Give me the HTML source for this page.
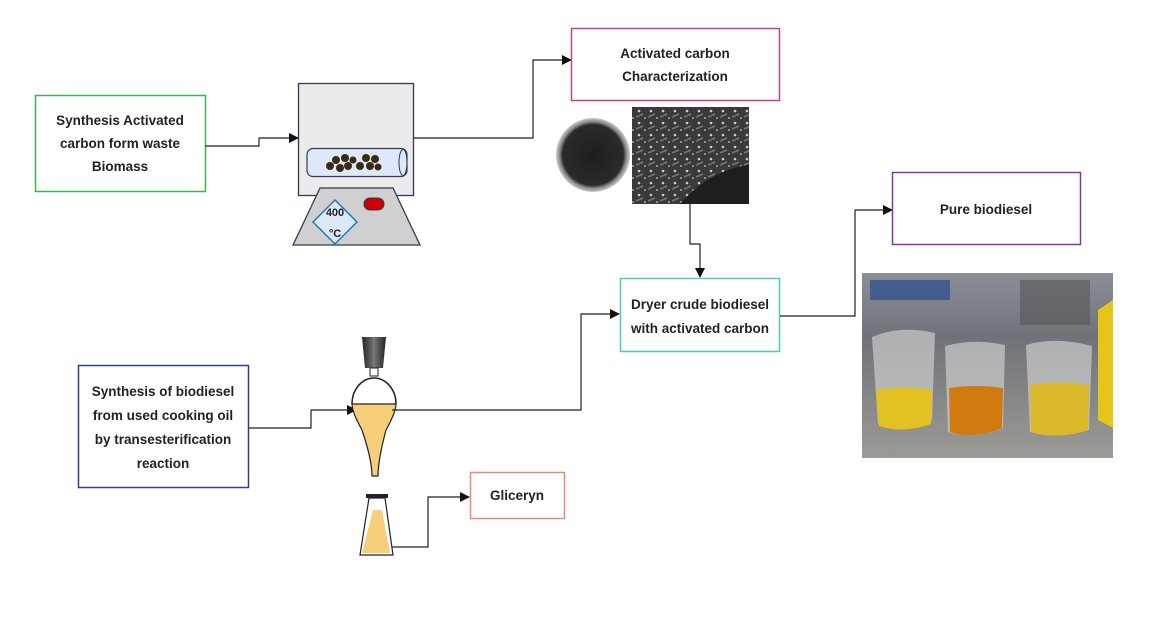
<!DOCTYPE html>
<html><head><meta charset="utf-8"><style>
html,body{margin:0;padding:0;background:#fff;}
svg{display:block;}
text{font-family:"Liberation Sans",sans-serif;font-weight:bold;font-size:13.5px;fill:#222;}
</style></head><body>
<svg width="1163" height="619" viewBox="0 0 1163 619" xmlns="http://www.w3.org/2000/svg">
<defs>
<marker id="a" markerWidth="10" markerHeight="10" refX="9" refY="5" orient="auto" markerUnits="userSpaceOnUse"><path d="M0,0 L10,5 L0,10 z" fill="#111"/></marker>
<radialGradient id="blob" cx="50%" cy="50%" r="50%"><stop offset="0" stop-color="#1e1e1e"/><stop offset="0.82" stop-color="#2a2a2a"/><stop offset="0.9" stop-color="#888"/><stop offset="1" stop-color="#ccc"/></radialGradient>
<linearGradient id="stop" x1="0" x2="1"><stop offset="0" stop-color="#222"/><stop offset="0.5" stop-color="#777"/><stop offset="1" stop-color="#222"/></linearGradient>
<linearGradient id="bg" x1="0" y1="0" x2="0" y2="1"><stop offset="0" stop-color="#8a8f98"/><stop offset="0.35" stop-color="#6f7278"/><stop offset="1" stop-color="#9b9a96"/></linearGradient>
<pattern id="sem" width="12" height="12" patternUnits="userSpaceOnUse"><rect width="12" height="12" fill="#3a3a3a"/><circle cx="3" cy="3" r="1.3" fill="#ccc"/><path d="M0,9 L7,6" stroke="#777" stroke-width="1.5"/><circle cx="9" cy="10" r="1" fill="#aaa"/></pattern>
</defs>
<rect x="35.5" y="95.5" width="170" height="96" fill="#fff" stroke="#3cb35a" stroke-width="1.5"/>
<text x="120" y="125" text-anchor="middle">Synthesis Activated</text>
<text x="120" y="148" text-anchor="middle">carbon form waste</text>
<text x="120" y="171" text-anchor="middle">Biomass</text>
<path d="M205,146 H259 V138 H298" fill="none" stroke="#222" stroke-width="1.2" marker-end="url(#a)"/>
<rect x="298.5" y="83.5" width="115" height="112" fill="#ebebeb" stroke="#333a55" stroke-width="1.3"/>
<path d="M320,188 H393 L420,245 H293 Z" fill="#d0d0d0" stroke="#333a55" stroke-width="1.3"/>
<rect x="307" y="148.5" width="100" height="28" rx="6" fill="#dde8fa" stroke="#333a55" stroke-width="1.2"/>
<ellipse cx="403" cy="162.5" rx="4" ry="13" fill="none" stroke="#333a55"/>
<g fill="#3a2a12">
<circle cx="330" cy="166" r="4"/><circle cx="336" cy="160" r="4"/><circle cx="340" cy="168" r="4"/><circle cx="345" cy="158" r="4"/><circle cx="348" cy="166" r="4"/><circle cx="353" cy="160" r="3.5"/>
<circle cx="360" cy="166" r="4"/><circle cx="366" cy="158" r="4"/><circle cx="370" cy="166" r="4"/><circle cx="375" cy="159" r="4"/><circle cx="378" cy="167" r="3.5"/>
</g>
<rect x="364" y="198" width="20" height="12" rx="6" fill="#c00" stroke="#333a55"/>
<path d="M335,200 L357,222 L335,244 L313,222 Z" fill="#dbe8f8" stroke="#2b74c0" stroke-width="1.5"/>
<text x="335" y="216" text-anchor="middle" style="font-size:11px">400</text>
<text x="335" y="237" text-anchor="middle" style="font-size:11px">°C</text>
<path d="M413,138 H533 V60 H571" fill="none" stroke="#222" stroke-width="1.2" marker-end="url(#a)"/>
<rect x="571.5" y="28.5" width="208" height="72" fill="#fff" stroke="#c2418a" stroke-width="1.5"/>
<text x="675" y="58" text-anchor="middle">Activated carbon</text>
<text x="675" y="81" text-anchor="middle">Characterization</text>
<circle cx="593" cy="155" r="37" fill="url(#blob)"/>
<rect x="632" y="107" width="117" height="97" fill="url(#sem)"/>
<path d="M680,204 Q710,170 749,165 L749,204 Z" fill="#1e1e1e"/>
<path d="M690,204 V244 H700 V277" fill="none" stroke="#222" stroke-width="1.2" marker-end="url(#a)"/>
<rect x="620.5" y="278.5" width="159" height="73" fill="#fff" stroke="#4cc8c0" stroke-width="1.5"/>
<text x="700" y="309" text-anchor="middle">Dryer crude biodiesel</text>
<text x="700" y="333" text-anchor="middle">with activated carbon</text>
<path d="M780,316 H855 V210 H892" fill="none" stroke="#222" stroke-width="1.2" marker-end="url(#a)"/>
<rect x="892.5" y="172.5" width="188" height="72" fill="#fff" stroke="#7b3aa8" stroke-width="1.5"/>
<text x="986" y="214" text-anchor="middle">Pure biodiesel</text>
<rect x="862" y="273" width="251" height="185" fill="url(#bg)"/>
<rect x="870" y="280" width="80" height="20" fill="#2a4a8a" opacity="0.7"/>
<rect x="1020" y="280" width="70" height="45" fill="#555" opacity="0.6"/>
<path d="M872,337 Q900,325 935,333 L932,420 Q904,434 878,424 Z" fill="#d8dbd8" opacity="0.6"/>
<path d="M876,390 Q905,385 932,390 L931,424 Q904,434 879,426 Z" fill="#e2c220"/>
<path d="M945,346 Q975,338 1005,345 L1003,428 Q975,440 948,432 Z" fill="#d8dbd8" opacity="0.6"/>
<path d="M949,388 Q975,384 1003,388 L1002,428 Q975,440 950,432 Z" fill="#d17a10"/>
<path d="M1026,345 Q1055,336 1092,346 L1089,430 Q1058,440 1030,432 Z" fill="#d8dbd8" opacity="0.6"/>
<path d="M1030,385 Q1058,380 1089,385 L1088,430 Q1058,440 1031,432 Z" fill="#dcb92a"/>
<path d="M1098,310 L1113,300 L1113,428 L1098,420 Z" fill="#e5c51a"/>
<rect x="78.5" y="365.5" width="170" height="122" fill="#fff" stroke="#2b3f8c" stroke-width="1.5"/>
<text x="163" y="396" text-anchor="middle">Synthesis of biodiesel</text>
<text x="163" y="420" text-anchor="middle">from used cooking oil</text>
<text x="163" y="444" text-anchor="middle">by transesterification</text>
<text x="163" y="468" text-anchor="middle">reaction</text>
<path d="M249,428 H311 V410 H356" fill="none" stroke="#222" stroke-width="1.2" marker-end="url(#a)"/>
<path d="M362,337 H386 L383,368 H365 Z" fill="url(#stop)"/>
<rect x="370" y="368" width="8" height="8" fill="none" stroke="#222"/>
<path d="M374,402 m-22,0 a22,22 0 0 1 44,0 Z" fill="#fff"/>
<path d="M352,404 Q352,412 362,430 Q372,460 372,476 H378 Q378,460 386,430 Q396,412 396,404 Z" fill="#f7cf7a" stroke="#222" stroke-width="1.2"/>
<path d="M352,404 A22,26 0 0 1 396,404" fill="none" stroke="#222" stroke-width="1.5"/>
<path d="M392,410 H581 V314 H619" fill="none" stroke="#222" stroke-width="1.2" marker-end="url(#a)"/>
<rect x="366" y="494" width="22" height="4" fill="#222"/>
<path d="M369,498 H385 L393,555 H360 Z" fill="#fff" stroke="#222" stroke-width="1.2"/>
<path d="M373,510 H382 L390,553 H362 Z" fill="#f7cf7a"/>
<path d="M392,547 H428 V497 H469" fill="none" stroke="#222" stroke-width="1.2" marker-end="url(#a)"/>
<rect x="470.5" y="472.5" width="94" height="46" fill="#fff" stroke="#e8877a" stroke-width="1.5"/>
<text x="517" y="500" text-anchor="middle">Gliceryn</text>
</svg>
</body></html>
